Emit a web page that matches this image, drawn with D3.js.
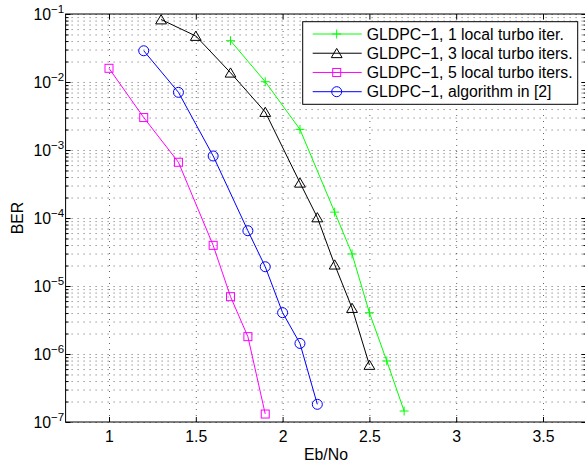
<!DOCTYPE html>
<html>
<head>
<meta charset="utf-8">
<script src="https://cdn.jsdelivr.net/npm/d3@7"></script>
<style>
  body { margin: 0; background: #fff; }
  svg { font-family: "Liberation Sans", Arial, sans-serif; }
  .grid line { stroke: #000; stroke-opacity: 0.6; stroke-dasharray: 1,5; }
  .grid path { display: none; }
</style>
</head>
<body>
<svg width="585" height="465"></svg>
<script>
// series
var ebno1 = [1.7, 1.9, 2.1, 2.3, 2.4, 2.5, 2.6, 2.7];
var ber1 = [4.05e-2, 1.01e-2, 2.01e-3, 1.22e-4, 2.96e-5, 4.05e-6, 7.9e-7, 1.45e-7];
var ebno3 = [1.3, 1.5, 1.7, 1.9, 2.1, 2.2, 2.3, 2.4, 2.5];
var ber3 = [8.3e-2, 4.75e-2, 1.37e-2, 3.62e-3, 3.3e-4, 1.02e-4, 2.06e-5, 4.74e-6, 6.9e-7];
var ebno5 = [1.0, 1.2, 1.4, 1.6, 1.7, 1.8, 1.9];
var ber5 = [1.59e-2, 3.0e-3, 6.6e-4, 3.96e-5, 6.97e-6, 1.8e-6, 1.31e-7];
var ebnoA = [1.2, 1.4, 1.6, 1.8, 1.9, 2.0, 2.1, 2.2];
var berA = [2.88e-2, 7.05e-3, 8.17e-4, 6.5e-5, 1.92e-5, 4.05e-6, 1.43e-6, 1.82e-7];

var seriesNames = ["GLDPC\u22121, 1 local turbo iter.",
                   "GLDPC\u22121, 3 local turbo iters.",
                   "GLDPC\u22121, 5 local turbo iters.",
                   "GLDPC\u22121, algorithm in [2]"];
var xTicks = [1, 1.5, 2, 2.5, 3, 3.5];
var yExponents = [-1, -2, -3, -4, -5, -6, -7];

var series = [
  { name: seriesNames[0], x: ebno1, y: ber1, color: "#00ff00", marker: "plus" },
  { name: seriesNames[1], x: ebno3, y: ber3, color: "#000000", marker: "triangle" },
  { name: seriesNames[2], x: ebno5, y: ber5, color: "#ff00ff", marker: "square" },
  { name: seriesNames[3], x: ebnoA, y: berA, color: "#0000ff", marker: "circle" }
];

var svg = d3.select("svg");
var plotLeft = 65.6, plotRight = 586.4, plotTop = 14, plotBottom = 422;
var fontSize = 15.8;

var x = d3.scaleLinear().domain([0.75, 3.75]).range([plotLeft, plotRight]);
var y = d3.scaleLog().domain([1e-7, 1e-1]).range([plotBottom, plotTop]);

var majorY = yExponents.map(function(e) { return Math.pow(10, e); });
var minorY = [];
yExponents.slice(1).forEach(function(e) {
  for (var k = 2; k <= 9; k++) minorY.push(k * Math.pow(10, e));
});

// grid lines
svg.append("g").attr("class", "grid")
  .attr("transform", "translate(0," + plotBottom + ")")
  .call(d3.axisBottom(x).tickValues(xTicks).tickSize(-(plotBottom - plotTop)).tickFormat(""));
svg.append("g").attr("class", "grid")
  .attr("transform", "translate(" + plotLeft + ",0)")
  .call(d3.axisLeft(y).tickValues(majorY.concat(minorY)).tickSize(-(plotRight - plotLeft)).tickFormat(""));

// curves
var line = d3.line()
  .x(function(d) { return x(d[0]); })
  .y(function(d) { return y(d[1]); });

function drawMarker(g, type, color) {
  if (type === "plus") {
    g.append("path").attr("d", "M-4.5,0H4.5M0,-4.5V4.5")
      .attr("stroke", color).attr("fill", "none");
  } else if (type === "triangle") {
    g.append("path").attr("d", "M0,-4.8L5.4,4.4L-5.4,4.4Z")
      .attr("stroke", color).attr("fill", "none");
  } else if (type === "square") {
    g.append("rect").attr("x", -4).attr("y", -4).attr("width", 8).attr("height", 8)
      .attr("stroke", color).attr("fill", "none");
  } else {
    g.append("circle").attr("r", 5)
      .attr("stroke", color).attr("fill", "none");
  }
}

series.forEach(function(s) {
  var pts = s.x.map(function(v, i) { return [v, s.y[i]]; });
  svg.append("path").datum(pts)
    .attr("d", line)
    .attr("fill", "none")
    .attr("stroke", s.color)
    .attr("stroke-width", 1);
  svg.selectAll(null).data(pts).enter().append("g")
    .attr("transform", function(d) { return "translate(" + x(d[0]) + "," + y(d[1]) + ")"; })
    .each(function() { drawMarker(d3.select(this), s.marker, s.color); });
});

// axes box
svg.append("rect")
  .attr("x", plotLeft).attr("y", plotTop)
  .attr("width", plotRight - plotLeft).attr("height", plotBottom - plotTop)
  .attr("fill", "none").attr("stroke", "#000");

var xb = svg.append("g")
  .attr("transform", "translate(0," + plotBottom + ")")
  .call(d3.axisBottom(x).tickValues(xTicks).tickSize(-5).tickPadding(8.5).tickFormat(d3.format("")));
var xt = svg.append("g")
  .attr("transform", "translate(0," + plotTop + ")")
  .call(d3.axisTop(x).tickValues(xTicks).tickSize(-5).tickFormat(""));

var yl = svg.append("g")
  .attr("transform", "translate(" + plotLeft + ",0)")
  .call(d3.axisLeft(y).tickValues(majorY).tickSize(-5).tickFormat(""));
var ylm = svg.append("g")
  .attr("transform", "translate(" + plotLeft + ",0)")
  .call(d3.axisLeft(y).tickValues(minorY).tickSize(-3).tickFormat(""));
var yr = svg.append("g")
  .attr("transform", "translate(" + plotRight + ",0)")
  .call(d3.axisRight(y).tickValues(majorY).tickSize(-5).tickFormat(""));
var yrm = svg.append("g")
  .attr("transform", "translate(" + plotRight + ",0)")
  .call(d3.axisRight(y).tickValues(minorY).tickSize(-3).tickFormat(""));

[xb, xt, yl, ylm, yr, yrm].forEach(function(a) {
  a.select(".domain").remove();
  a.selectAll("line").attr("stroke", "#000");
});
xb.selectAll("text").attr("font-size", fontSize).attr("fill", "#000")
  .attr("font-family", "Liberation Sans, Arial, sans-serif");

// y tick labels as 10^e
yl.selectAll(".tick").each(function(d) {
  var e = Math.round(Math.log10(d));
  var t = d3.select(this).append("text")
    .attr("x", -1.5).attr("y", 5.5)
    .attr("text-anchor", "end")
    .attr("fill", "#000")
    .attr("font-size", fontSize)
    .attr("font-family", "Liberation Sans, Arial, sans-serif");
  t.append("tspan").text("10");
  t.append("tspan").attr("dy", -6.8).attr("font-size", 11.5).text("\u2212" + Math.abs(e));
});

// axis labels
svg.append("text")
  .attr("x", (plotLeft + plotRight) / 2).attr("y", 460)
  .attr("text-anchor", "middle").attr("font-size", fontSize)
  .text("Eb/No");
svg.append("text")
  .attr("transform", "translate(23," + (plotTop + plotBottom) / 2 + ") rotate(-90)")
  .attr("text-anchor", "middle").attr("font-size", fontSize)
  .text("BER");

// legend
var legend = svg.append("g");
legend.append("rect")
  .attr("x", 302.7).attr("y", 21.7).attr("width", 275).attr("height", 82.6)
  .attr("fill", "#fff").attr("stroke", "#000");
var rowY = d3.scalePoint().domain(seriesNames).range([34, 91.7]);
series.forEach(function(s) {
  var ry = rowY(s.name);
  legend.append("line")
    .attr("x1", 312.7).attr("x2", 361.7).attr("y1", ry).attr("y2", ry)
    .attr("stroke", s.color);
  var mg = legend.append("g").attr("transform", "translate(336.7," + ry + ")");
  drawMarker(mg, s.marker, s.color);
  legend.append("text")
    .attr("x", 366.7).attr("y", ry + 5.5)
    .attr("font-size", fontSize)
    .text(s.name);
});
</script>
</body>
</html>
